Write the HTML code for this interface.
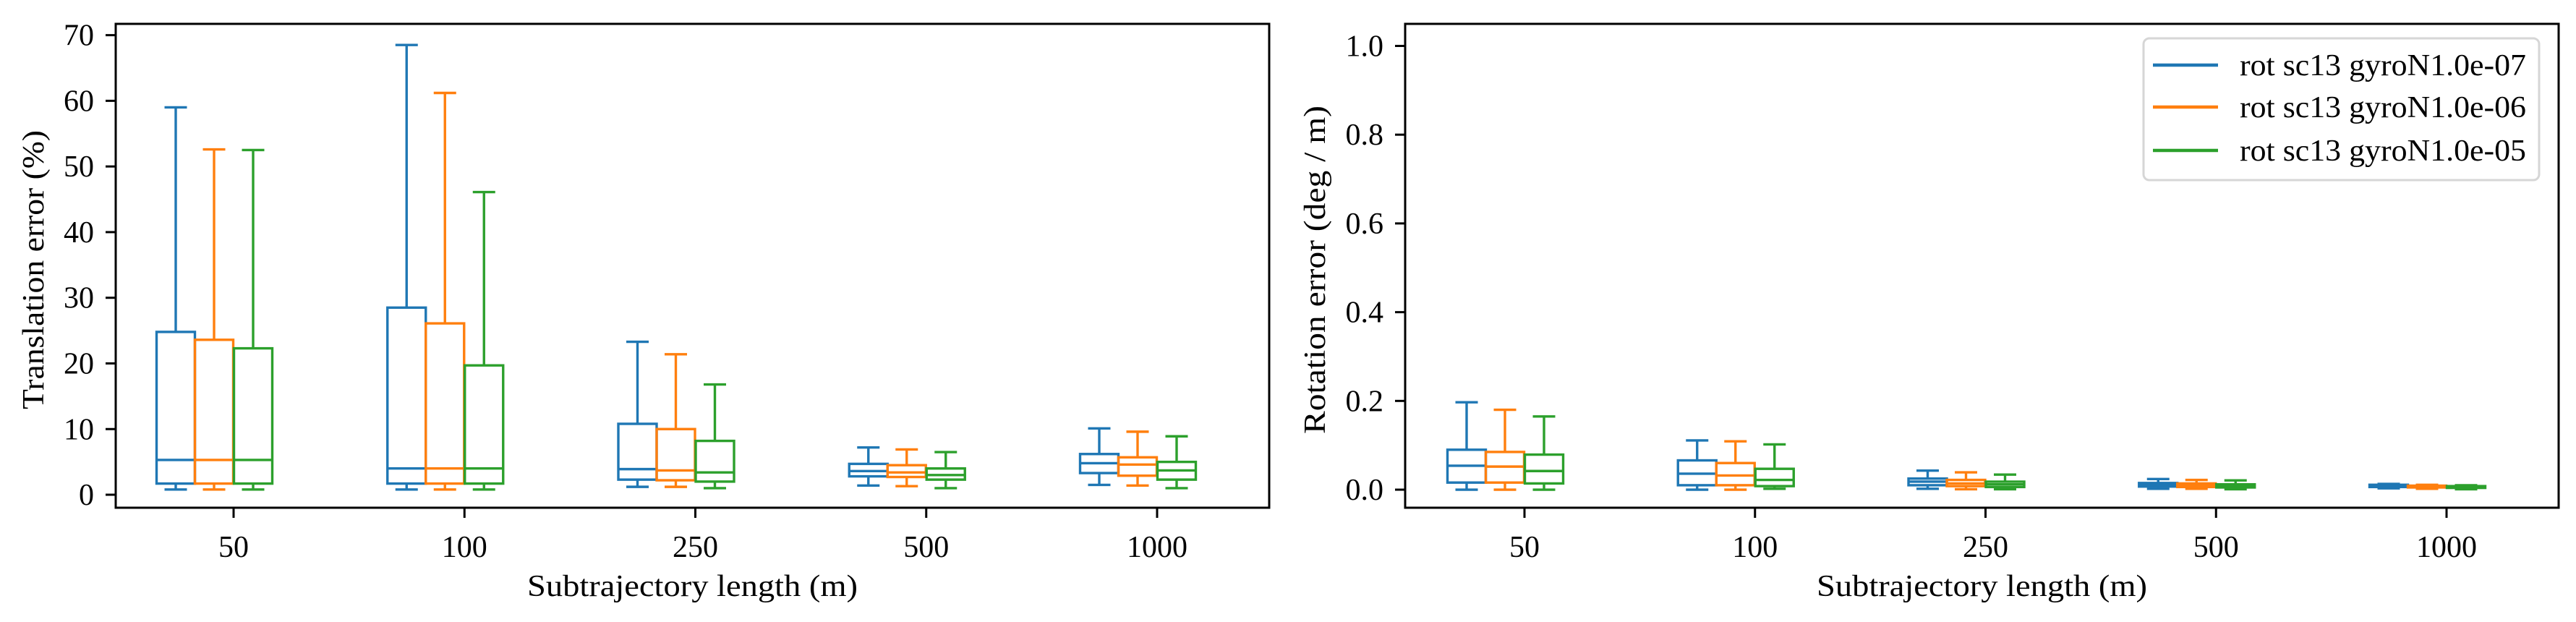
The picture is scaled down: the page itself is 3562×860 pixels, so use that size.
<!DOCTYPE html>
<html><head><meta charset="utf-8"><style>
html,body{margin:0;padding:0;background:#fff;}
svg{display:block;font-family:"Liberation Serif","DejaVu Serif",serif;}
</style></head><body>
<svg id="fig" width="3562" height="860" xmlns="http://www.w3.org/2000/svg"></svg>
<script>
const categories = ["50","100","250","500","1000"];
const seriesNames = ["rot sc13 gyroN1.0e-07","rot sc13 gyroN1.0e-06","rot sc13 gyroN1.0e-05"];
const colors = ["#1f77b4","#ff7f0e","#2ca02c"];
// [whiskerLow, q1, median, q3, whiskerHigh] per category
const transBlue = [[0.8,1.7,5.3,24.8,59],[0.8,1.7,4.0,28.5,68.5],[1.2,2.3,3.9,10.8,23.3],[1.4,2.8,3.6,4.7,7.2],[1.5,3.3,4.8,6.2,10.1]];
const transOrange = [[0.8,1.7,5.3,23.6,52.6],[0.8,1.7,4.0,26.1,61.2],[1.2,2.2,3.7,10.0,21.4],[1.3,2.7,3.4,4.5,6.9],[1.4,2.9,4.6,5.7,9.6]];
const transGreen = [[0.8,1.7,5.3,22.3,52.5],[0.8,1.7,4.0,19.7,46.1],[1.0,2.0,3.4,8.2,16.8],[1.0,2.3,3.0,4.0,6.5],[1.0,2.3,3.7,5.0,8.9]];
const rotBlue = [[0,0.016,0.054,0.09,0.197],[0,0.01,0.036,0.066,0.111],[0.002,0.01,0.018,0.025,0.043],[0.002,0.007,0.011,0.015,0.024],[0.003,0.006,0.008,0.011,0.013]];
const rotOrange = [[0,0.016,0.052,0.085,0.18],[0,0.01,0.032,0.06,0.109],[0.001,0.008,0.014,0.022,0.039],[0.002,0.006,0.01,0.014,0.022],[0.002,0.005,0.007,0.009,0.011]];
const rotGreen = [[0,0.014,0.042,0.079,0.165],[0.002,0.008,0.022,0.047,0.102],[0.001,0.006,0.012,0.018,0.034],[0.001,0.005,0.009,0.012,0.021],[0.001,0.004,0.006,0.008,0.01]];
const transTicks = [0,10,20,30,40,50,60,70];
const transTickLabels = ["0","10","20","30","40","50","60","70"];
const rotTicks = [0,0.2,0.4,0.6,0.8,1.0];
const rotTickLabels = ["0.0","0.2","0.4","0.6","0.8","1.0"];

const NS="http://www.w3.org/2000/svg";
const svg=document.getElementById('fig');
function mk(tag,attrs,parent){const e=document.createElementNS(NS,tag);for(const k in attrs)e.setAttribute(k,attrs[k]);(parent||svg).appendChild(e);return e;}

function drawPanel(cfg){
  const g=mk('g',{});
  
  
  const {x0,x1,y0,y1,tick0,tickStep,vmin,vmax}=cfg;
  const Y=v=>y1-(v-vmin)/(vmax-vmin)*(y1-y0);
  const X=i=>tick0+i*tickStep;
  const offs=[-80,-27,27], bw=53, cw=31;
  cfg.series.forEach((ser,s)=>{
    ser.forEach((d,i)=>{
      const bg=mk('g',{stroke:colors[s],'stroke-width':3.4,fill:'none'},g);
      
      
      const cx=X(i)+offs[s];
      mk('rect',{x:cx-bw/2,y:Y(d[3]),width:bw,height:Math.max(0.5,Y(d[1])-Y(d[3]))},bg);
      mk('line',{x1:cx-bw/2,x2:cx+bw/2,y1:Y(d[2]),y2:Y(d[2])},bg);
      mk('line',{x1:cx,x2:cx,y1:Y(d[3]),y2:Y(d[4])},bg);
      mk('line',{x1:cx,x2:cx,y1:Y(d[1]),y2:Y(d[0])},bg);
      mk('line',{x1:cx-cw/2,x2:cx+cw/2,y1:Y(d[4]),y2:Y(d[4])},bg);
      mk('line',{x1:cx-cw/2,x2:cx+cw/2,y1:Y(d[0]),y2:Y(d[0])},bg);
    });
  });
  const fr=mk('rect',{x:x0,y:y0,width:x1-x0,height:y1-y0,fill:'none',stroke:'#000','stroke-width':3},g);
  
  
  categories.forEach((c,i)=>{
    mk('line',{x1:X(i),x2:X(i),y1:y1,y2:y1+14,stroke:'#000','stroke-width':3},g);
    const t=mk('text',{x:X(i),y:770,'font-size':42,'text-anchor':'middle'},g);
    t.textContent=c;
    
    
  });
  cfg.ticks.forEach((v,i)=>{
    mk('line',{x1:x0,x2:x0-14,y1:Y(v),y2:Y(v),stroke:'#000','stroke-width':3},g);
    const t=mk('text',{x:x0-30,y:Y(v)+14,'font-size':42,'text-anchor':'end'},g);
    t.textContent=cfg.tickLabels[i];
    
    
  });
  const xl=mk('text',{x:(x0+x1)/2,y:824,'font-size':42,'text-anchor':'middle',textLength:457,lengthAdjust:'spacingAndGlyphs'},g);
  xl.textContent='Subtrajectory length (m)';
  
  
  const yl=mk('text',{x:0,y:0,'font-size':42,'text-anchor':'middle',textLength:cfg.ylabelLen,lengthAdjust:'spacingAndGlyphs',transform:`translate(${cfg.ylabelX},${cfg.ylabelCy}) rotate(-90)`},g);
  yl.textContent=cfg.ylabel;
  
  
}

drawPanel({name:'translation-error-chart',short:'trans',x0:160,x1:1755,y0:33,y1:702,tick0:323,tickStep:319.25,vmin:-1.98,vmax:71.72,series:[transBlue,transOrange,transGreen],ticks:transTicks,tickLabels:transTickLabels,ylabel:'Translation error (%)',ylabelX:60,ylabelCy:373,ylabelLen:386});
drawPanel({name:'rotation-error-chart',short:'rot',x0:1943,x1:3538,y0:33,y1:702,tick0:2108,tickStep:318.75,vmin:-0.0407,vmax:1.0497,series:[rotBlue,rotOrange,rotGreen],ticks:rotTicks,tickLabels:rotTickLabels,ylabel:'Rotation error (deg / m)',ylabelX:1832,ylabelCy:373,ylabelLen:454});

// legend
const lg=mk('g',{});


mk('rect',{x:2964,y:53,width:547,height:196,rx:8,fill:'#fff','fill-opacity':0.8,stroke:'#d6d6d6','stroke-width':3},lg);
const rowY=[90,148,208];
seriesNames.forEach((n,s)=>{
  const e=mk('g',{},lg);
  
  
  mk('line',{x1:2977,x2:3067,y1:rowY[s],y2:rowY[s],stroke:colors[s],'stroke-width':4.5},e);
  const t=mk('text',{x:3097,y:rowY[s]+14,'font-size':42,textLength:396,lengthAdjust:'spacingAndGlyphs'},e);
  t.textContent=n;
});
</script>
</body></html>
